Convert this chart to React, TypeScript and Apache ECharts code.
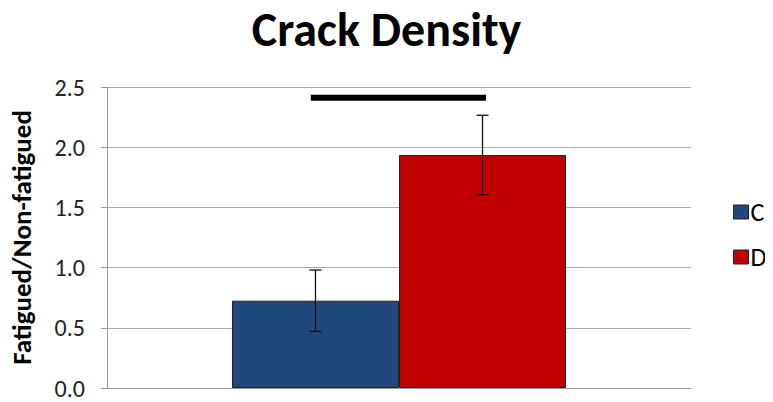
import React, { useEffect, useRef } from "react";
import * as echarts from "echarts";

const categories = ["Crack Density"];
const seriesNames = ["C", "D"];
const seriesValues = [[0.725], [1.935]];
const seriesErrors = [[0.255], [0.33]];
const seriesColors = ["#1F497D", "#C00000"];
const yTicks = [0, 0.5, 1.0, 1.5, 2.0, 2.5];
// significance bracket: from/to on hidden 0..1 x axis, at value y
const sigBar = [[0.349, 2.41], [0.649, 2.41]];

const GAP = 0.428;

export default function App() {
  const ref = useRef<HTMLDivElement>(null);
  useEffect(() => {
    const chart = echarts.init(ref.current!, null, { renderer: "svg" });
    const font = "Carlito, 'Open Sans', 'Liberation Sans', sans-serif";
    const barSeries = seriesNames.map((name, i) => ({
      name,
      type: "bar",
      data: seriesValues[i],
      barGap: "0%",
      barCategoryGap: GAP * 100 + "%",
      itemStyle: { color: seriesColors[i], borderColor: "#222", borderWidth: 1 },
      xAxisIndex: 0,
      yAxisIndex: 0,
      z: 2,
    }));
    const errSeries = seriesNames.map((name, i) => ({
      name: name + "_err",
      type: "custom",
      xAxisIndex: 0,
      yAxisIndex: 0,
      z: 5,
      data: seriesValues[i].map((v, j) => [j, v, seriesErrors[i][j]]),
      renderItem: (params: any, api: any) => {
        const cat = api.value(0);
        const v = api.value(1);
        const e = api.value(2);
        const catW = api.size([1, 0])[0];
        const barW = (catW * (1 - GAP)) / seriesNames.length;
        const center = api.coord([cat, v])[0];
        const x = center - (barW * seriesNames.length) / 2 + barW * (i + 0.5);
        const yTop = api.coord([cat, v + e])[1];
        const yBot = api.coord([cat, v - e])[1];
        const cap = 6;
        const st = { stroke: "#111", lineWidth: 1.3 };
        return {
          type: "group",
          children: [
            { type: "line", shape: { x1: x, y1: yTop, x2: x, y2: yBot }, style: st },
            { type: "line", shape: { x1: x - cap, y1: yTop, x2: x + cap, y2: yTop }, style: st },
            { type: "line", shape: { x1: x - cap, y1: yBot, x2: x + cap, y2: yBot }, style: st },
          ],
        };
      },
    }));
    chart.setOption({
      animation: false,
      title: {
        text: "Crack Density",
        left: "center",
        top: 0,
        textStyle: { fontFamily: font, fontWeight: "bold", fontSize: 48, color: "#000" },
      },
      legend: {
        orient: "vertical",
        left: 733,
        top: 199,
        padding: 0,
        itemGap: 19,
        itemWidth: 15,
        itemHeight: 14,
        textStyle: { fontFamily: font, fontSize: 26, color: "#000", padding: [0, 0, 0, -3], width: 30, overflow: "none" },
        data: seriesNames.map((n, i) => ({
          name: n,
          icon: "rect",
          itemStyle: { color: seriesColors[i], borderColor: "#222", borderWidth: 1 },
        })),
      },
      grid: { left: 104, right: 82, top: 87, bottom: 14 },
      xAxis: [
        {
          type: "category",
          data: categories,
          axisLine: { show: true, lineStyle: { color: "#999", width: 1 } },
          axisTick: { show: false },
          axisLabel: { show: false },
          splitLine: { show: false },
        },
        {
          type: "value",
          min: 0,
          max: 1,
          show: false,
        },
      ],
      yAxis: {
        type: "value",
        min: 0,
        max: 2.5,
        interval: 0.5,
        name: "Fatigued/Non-fatigued",
        nameLocation: "middle",
        nameGap: 72,
        nameTextStyle: { fontFamily: font, fontWeight: "bold", fontSize: 27, color: "#000" },
        axisLine: { show: true, lineStyle: { color: "#999", width: 1 } },
        axisTick: { show: true, length: 6, lineStyle: { color: "#999" } },
        axisLabel: {
          fontFamily: font,
          fontSize: 24,
          color: "#222",
          margin: 22,
          formatter: (v: number) => (yTicks.includes(v) ? v.toFixed(1) : ""),
        },
        splitLine: { show: true, lineStyle: { color: "#aaa", width: 1 } },
      },
      series: [
        ...barSeries,
        ...errSeries,
        {
          name: "sig",
          type: "line",
          xAxisIndex: 1,
          yAxisIndex: 0,
          data: sigBar,
          symbol: "none",
          lineStyle: { color: "#000", width: 6 },
          z: 6,
        },
      ],
    });
    return () => chart.dispose();
  }, []);
  return <div ref={ref} style={{ width: 773, height: 402, marginLeft: -8, marginTop: -8 }} />;
}
